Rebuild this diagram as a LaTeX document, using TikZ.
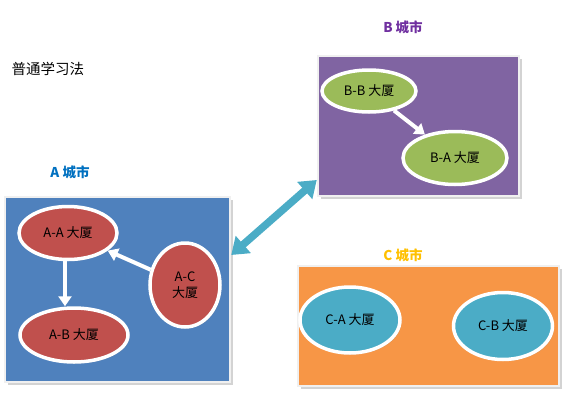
\documentclass[tikz,border=0pt]{standalone}
\usepackage{fontspec}
\setmainfont{Noto Sans CJK SC}
\usetikzlibrary{shapes.geometric,arrows.meta,shadows}
\definecolor{cblue}{HTML}{4F81BD}
\definecolor{cred}{HTML}{C0504D}
\definecolor{cpurple}{HTML}{8064A2}
\definecolor{cgreen}{HTML}{9BBB59}
\definecolor{corange}{HTML}{F79646}
\definecolor{cteal}{HTML}{4BACC6}
\definecolor{tblue}{HTML}{0070C0}
\definecolor{tpurple}{HTML}{7030A0}
\definecolor{tgold}{HTML}{FFC000}
\tikzset{
  city/.style={rectangle, draw=white!94!black, line width=2.5pt, inner sep=0pt,
    drop shadow={shadow xshift=2.5pt, shadow yshift=-2.5pt, opacity=0.35}},
  bld/.style={ellipse, draw=white, line width=3.5pt, inner sep=0pt, align=center,
    font=\fontsize{13}{16}\selectfont,
    drop shadow={shadow xshift=1.5pt, shadow yshift=-1.5pt, opacity=0.3}},
  warrow/.style={draw=white, line width=4pt, -{Triangle[width=13pt,length=10pt]}},
  citylabel/.style={font=\bfseries\fontsize{13.5}{16}\selectfont},
}
\begin{document}
\begin{tikzpicture}[x=1pt,y=-1pt]
\useasboundingbox (0,0) rectangle (587,400);
% city boxes
\node[city, fill=cblue, minimum width=225pt, minimum height=185pt] (boxA) at (117.5,289.5) {};
\node[city, fill=cpurple, minimum width=201pt, minimum height=140pt] (boxB) at (418.5,126) {};
\node[city, fill=corange, minimum width=261pt, minimum height=120pt] (boxC) at (428.5,326) {};
% labels
\node (title) at (48,69) {\fontsize{14.5}{17}\selectfont 普通学习法};
\node[citylabel, text=tblue] (labA) at (70,172) {A\ 城市};
\node[citylabel, text=tpurple] (labB) at (403,27) {B\ 城市};
\node[citylabel, text=tgold] (labC) at (403,255) {C\ 城市};
% A buildings
\node[bld, fill=cred, minimum width=98pt, minimum height=53pt] (AA) at (68,233) {A-A 大厦};
\node[bld, fill=cred, minimum width=108pt, minimum height=54pt] (AB) at (74,335) {A-B 大厦};
\node[bld, fill=cred, minimum width=70pt, minimum height=84pt] (AC) at (185,285) {A-C\\大厦};
% B buildings
\node[bld, fill=cgreen, minimum width=94pt, minimum height=42pt] (BB) at (369,91) {B-B 大厦};
\node[bld, fill=cgreen, minimum width=104pt, minimum height=53pt] (BA) at (455,158) {B-A 大厦};
% C buildings
\node[bld, fill=cteal, minimum width=100pt, minimum height=66pt] (CA) at (350,320) {C-A 大厦};
\node[bld, fill=cteal, minimum width=99pt, minimum height=67pt] (CB) at (503,326) {C-B 大厦};
% arrows
\draw[warrow] (AA.south -| 65,0) -- (AB.north -| 65,0);
\draw[warrow] (AC) -- (AA);
\draw[warrow] (BB) -- (BA);
\draw[draw=cteal, line width=7.5pt, {Triangle[width=22pt,length=16pt]}-{Triangle[width=22pt,length=16pt]}]
  (boxA.east |- 0,255) -- (boxB.west |- 0,180);
\end{tikzpicture}
\end{document}
